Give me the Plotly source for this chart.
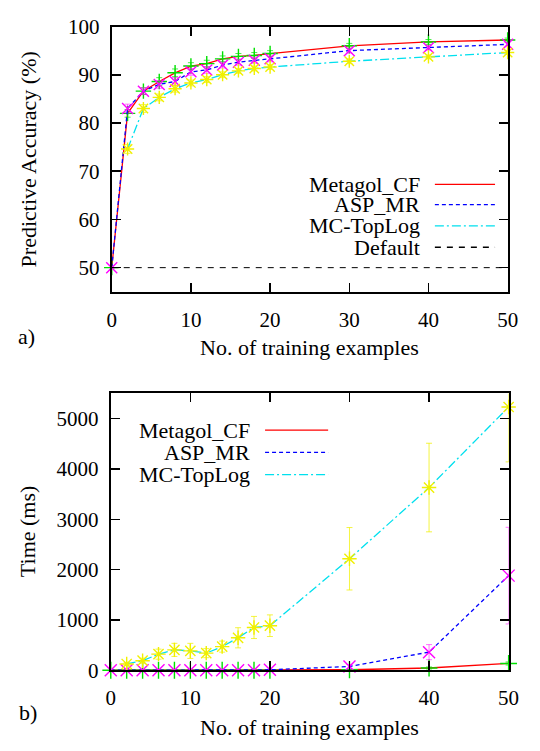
import plotly.graph_objects as go

# ---------------- data ----------------
x_examples = [0, 2, 4, 6, 8, 10, 12, 14, 16, 18, 20, 30, 40, 50]
x_ticks = [0, 10, 20, 30, 40, 50]
series_names = ["Metagol_CF", "ASP_MR", "MC-TopLog"]

# a) predictive accuracy (%)
acc_metagol = [50, 82.0, 86.6, 88.6, 90.4, 91.8, 92.3, 93.3, 93.8, 94.0, 94.4, 96.0, 96.8, 97.2]
acc_asp = [50, 83.0, 86.6, 88.0, 88.6, 90.6, 91.0, 92.0, 92.6, 93.0, 93.3, 95.0, 95.6, 96.3]
acc_mc = [None, 74.6, 83.0, 85.3, 87.1, 88.3, 89.0, 90.0, 90.8, 91.3, 91.6, 92.8, 93.7, 94.6]
acc_err_metagol = [0, 0.8, 0.7, 0.8, 0.8, 0.7, 0.7, 0.6, 0.6, 0.6, 0.6, 0.5, 0.5, 0.4]
acc_err_asp = [0, 0.9, 0.7, 0.8, 0.8, 0.7, 0.7, 0.6, 0.6, 0.6, 0.6, 0.5, 0.5, 0.4]
acc_err_mc = [0, 0.9, 0.8, 0.7, 0.7, 0.6, 0.6, 0.6, 0.5, 0.5, 0.5, 0.5, 0.4, 0.4]
default_accuracy = 50
acc_ticks = [50, 60, 70, 80, 90, 100]

# b) time (ms)
time_metagol = [0, 0, 0, 0, 0, 0, 0, 0, 0, 0, 0, 10, 45, 135]
time_asp = [0, 0, 0, 0, 0, 0, 0, 0, 0, 0, 10, 75, 360, 1880]
time_mc = [None, 125, 190, 320, 405, 385, 340, 470, 645, 850, 885, 2215, 3630, 5230]
time_err_metagol = [0, 0, 0, 0, 0, 0, 0, 0, 0, 0, 0, 5, 20, 30]
time_err_asp = [0, 0, 0, 0, 0, 0, 0, 0, 0, 0, 5, 40, 150, 960]
time_err_mc = [0, 30, 50, 100, 130, 150, 90, 110, 200, 220, 215, 620, 880, 1090]
time_ticks = [0, 1000, 2000, 3000, 4000, 5000]

# ---------------- styles ----------------
W, H = 540, 751
FONT = "Liberation Serif"
line_colors = ["#ff0000", "#0000ff", "#00e0ee"]
line_dashes = ["solid", "4px,3px", "9px,3px,2px,3px"]
marker_colors = ["#00e000", "#ff00ff", "#f0f000"]
error_colors = ["rgba(0,224,0,0.7)", "rgba(255,0,255,0.55)", "rgba(240,240,0,0.75)"]
marker_symbols = ["cross-thin-open", "x-thin-open", "asterisk-open"]


def px_x(p):
    return p / W


def px_y(p):
    return 1 - p / H


fig = go.Figure()

top_vals = [acc_metagol, acc_asp, acc_mc]
top_errs = [acc_err_metagol, acc_err_asp, acc_err_mc]
bot_vals = [time_metagol, time_asp, time_mc]
bot_errs = [time_err_metagol, time_err_asp, time_err_mc]

for i, name in enumerate(series_names):
    for vals, errs, xa, ya, msize in [(top_vals[i], top_errs[i], "x", "y", 11),
                                      (bot_vals[i], bot_errs[i], "x2", "y2", 12)]:
        fig.add_trace(go.Scatter(
            x=x_examples, y=vals, name=name, xaxis=xa, yaxis=ya,
            mode="lines+markers", showlegend=False, cliponaxis=False,
            line=dict(color=line_colors[i], width=1.3, dash=line_dashes[i]),
            marker=dict(symbol=marker_symbols[i], size=msize,
                        line=dict(color=marker_colors[i], width=1.4),
                        color=marker_colors[i]),
            error_y=dict(type="data", array=errs, color=error_colors[i],
                         thickness=1, width=3),
        ))

# default baseline
fig.add_trace(go.Scatter(
    x=x_examples, y=[default_accuracy] * len(x_examples), name="Default",
    xaxis="x", yaxis="y", mode="lines", showlegend=False,
    line=dict(color="black", width=1, dash="6px,6px"),
))

axis_common = dict(
    showline=True, linecolor="black", linewidth=2, mirror="ticks",
    ticks="inside", ticklen=9, tickwidth=1.5, tickcolor="black",
    showgrid=False, zeroline=False,
    tickfont=dict(family=FONT, size=21, color="black"),
)

fig.update_layout(
    width=W, height=H, autosize=False,
    margin=dict(l=0, r=0, t=0, b=0),
    paper_bgcolor="white", plot_bgcolor="white",
    font=dict(family=FONT, size=22, color="black"),
    xaxis=dict(domain=[px_x(110), px_x(518)], range=[0, 50], tickvals=x_ticks,
               anchor="y", ticklabelstandoff=8, **axis_common),
    yaxis=dict(domain=[px_y(289), px_y(15)], range=[45, 100], tickvals=acc_ticks,
               anchor="x", ticklabelstandoff=6, **axis_common),
    xaxis2=dict(domain=[px_x(109), px_x(519)], range=[0, 50], tickvals=x_ticks,
                anchor="y2", ticklabelstandoff=8, **axis_common),
    yaxis2=dict(domain=[px_y(680), px_y(394)], range=[0, 5500], tickvals=time_ticks,
                anchor="x2", ticklabelstandoff=6, **axis_common),
)

annotations = []
shapes = []


def text(t, x, y, xanchor="center", angle=0):
    annotations.append(dict(
        text=t, x=px_x(x), y=px_y(y), xref="paper", yref="paper",
        xanchor=xanchor, yanchor="middle", showarrow=False, textangle=angle,
        borderpad=0, font=dict(family=FONT, size=22, color="black")))


# axis titles and panel labels
text("Predictive Accuracy (%)", 24, 152, angle=-90)
text("No. of training examples", 314, 347)
text("a)", 22, 335)
text("Time (ms)", 24, 537, angle=-90)
text("No. of training examples", 314, 739)
text("b)", 24, 724)

# custom legends (text left, sample right, gnuplot style)
top_legend_names = series_names + ["Default"]
top_legend_colors = line_colors + ["black"]
top_legend_dashes = line_dashes + ["6px,6px"]
top_legend_rows = [178, 199, 221, 243]
for n, c, d, yy in zip(top_legend_names, top_legend_colors, top_legend_dashes, top_legend_rows):
    text(n, 429, yy, xanchor="right")
    shapes.append(dict(type="line", xref="paper", yref="paper",
                       x0=px_x(443), x1=px_x(505), y0=px_y(yy), y1=px_y(yy),
                       line=dict(color=c, width=1.3, dash=d)))

bot_legend_rows = [432, 455, 478]
for n, c, d, yy in zip(series_names, line_colors, line_dashes, bot_legend_rows):
    text(n, 253, yy, xanchor="right")
    shapes.append(dict(type="line", xref="paper", yref="paper",
                       x0=px_x(268), x1=px_x(333), y0=px_y(yy), y1=px_y(yy),
                       line=dict(color=c, width=1.3, dash=d)))

fig.update_layout(annotations=annotations, shapes=shapes)
fig.write_html(
    "out.html",
    config={"displayModeBar": False, "staticPlot": True},
    post_script="document.body.style.margin='0';document.body.style.overflow='hidden';",
)
